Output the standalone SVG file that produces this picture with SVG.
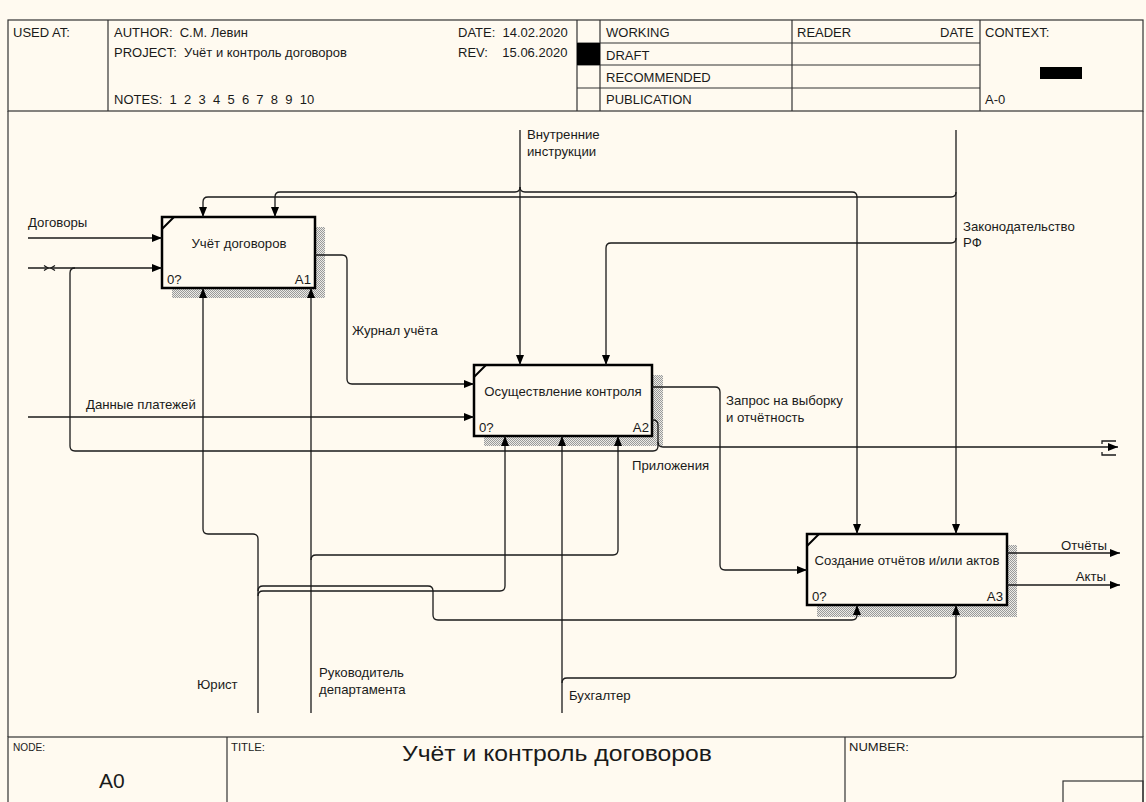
<svg xmlns="http://www.w3.org/2000/svg" width="1146" height="802" viewBox="0 0 1146 802">
<defs>
<style>
text{font-family:"Liberation Sans",Arial,sans-serif;fill:#1a1a1a}
.h{font-size:13px}
.l{font-size:13.2px}
.bl{font-size:13.2px}
.small{font-size:11px}
.frame{fill:none;stroke:#333;stroke-width:1.2}
.c{fill:none;stroke:#1a1a1a;stroke-width:1.3}
.box{fill:#fffaf0;stroke:#000;stroke-width:2.5}
.sh{fill:url(#hatch)}
</style>
<pattern id="hatch" width="2" height="2" patternUnits="userSpaceOnUse">
<rect width="2" height="2" fill="#ecebe6"/>
<rect width="1" height="1" fill="#9a9a9a"/>
<rect x="1" y="1" width="1" height="1" fill="#9a9a9a"/>
</pattern>
<marker id="ah" viewBox="0 0 10 8" refX="10" refY="4" markerWidth="10" markerHeight="8" markerUnits="userSpaceOnUse" orient="auto">
<path d="M0,0 L10,4 L0,8 z" fill="#000"/>
</marker>
</defs>
<rect x="0" y="0" width="1146" height="802" fill="#fffaf0"/>

<g id="header">
<rect class="frame" x="8" y="20" width="1135" height="91"/>
<line class="frame" x1="108" y1="20" x2="108" y2="111"/>
<line class="frame" x1="577" y1="20" x2="577" y2="111"/>
<line class="frame" x1="600" y1="20" x2="600" y2="111"/>
<line class="frame" x1="792" y1="20" x2="792" y2="111"/>
<line class="frame" x1="980" y1="20" x2="980" y2="111"/>
<line class="frame" x1="577" y1="43" x2="980" y2="43"/>
<line class="frame" x1="577" y1="65" x2="980" y2="65"/>
<line class="frame" x1="577" y1="88" x2="980" y2="88"/>
<rect x="577" y="43" width="23" height="22" fill="#000"/>
<rect x="1040" y="67" width="42" height="12" fill="#000"/>
<text class="h" x="13" y="37">USED AT:</text>
<text class="h" x="114" y="37" xml:space="preserve">AUTHOR:  С.М. Левин</text>
<text class="h" x="114" y="57" xml:space="preserve">PROJECT:  Учёт и контроль договоров</text>
<text class="h" x="114" y="104" xml:space="preserve">NOTES:  1  2  3  4  5  6  7  8  9  10</text>
<text class="h" x="458" y="37" xml:space="preserve">DATE:  14.02.2020</text>
<text class="h" x="458" y="57" xml:space="preserve">REV:    15.06.2020</text>
<text class="h" x="606" y="37">WORKING</text>
<text class="h" x="606" y="60">DRAFT</text>
<text class="h" x="606" y="82">RECOMMENDED</text>
<text class="h" x="606" y="104">PUBLICATION</text>
<text class="h" x="797" y="37">READER</text>
<text class="h" x="940" y="37">DATE</text>
<text class="h" x="985" y="37">CONTEXT:</text>
<text class="h" x="985" y="104">A-0</text>
</g>

<g id="body-frame">
<line class="frame" x1="8" y1="111" x2="8" y2="737"/>
<line class="frame" x1="1143" y1="111" x2="1143" y2="737"/>
</g>

<g id="footer">
<rect class="frame" x="8" y="737" width="1135" height="70"/>
<line class="frame" x1="227" y1="737" x2="227" y2="802"/>
<line class="frame" x1="845" y1="737" x2="845" y2="802"/>
<rect class="frame" x="1063" y="781" width="80" height="25"/>
<text class="small" x="13" y="751" textLength="32" lengthAdjust="spacingAndGlyphs">NODE:</text>
<text x="99" y="788" font-size="21">A0</text>
<text class="small" x="231" y="751" textLength="34" lengthAdjust="spacingAndGlyphs">TITLE:</text>
<text x="402" y="761" font-size="22" textLength="310" lengthAdjust="spacingAndGlyphs">Учёт и контроль договоров</text>
<text class="small" x="849" y="751" textLength="60" lengthAdjust="spacingAndGlyphs">NUMBER:</text>
</g>

<g id="A1">
<rect class="sh" x="172" y="227" width="153" height="71"/>
<rect class="box" x="162" y="217" width="153" height="71"/>
<line x1="162" y1="229" x2="174" y2="217" stroke="#000" stroke-width="2"/>
<text class="bl" x="239" y="248" text-anchor="middle">Учёт договоров</text>
<text class="bl" x="167" y="284">0?</text>
<text class="bl" x="311" y="284" text-anchor="end">A1</text>
</g>

<g id="A2">
<rect class="sh" x="484" y="375" width="179" height="71"/>
<rect class="box" x="474" y="365" width="178" height="71"/>
<line x1="474" y1="377" x2="486" y2="365" stroke="#000" stroke-width="2"/>
<text class="bl" x="563" y="396" text-anchor="middle">Осуществление контроля</text>
<text class="bl" x="479" y="432">0?</text>
<text class="bl" x="649" y="432" text-anchor="end">A2</text>
</g>

<g id="A3">
<rect class="sh" x="817" y="545" width="200" height="72"/>
<rect class="box" x="807" y="534" width="200" height="71"/>
<line x1="807" y1="546" x2="819" y2="534" stroke="#000" stroke-width="2"/>
<text class="bl" x="907" y="565" text-anchor="middle">Создание отчётов и/или актов</text>
<text class="bl" x="812" y="601">0?</text>
<text class="bl" x="1003" y="601" text-anchor="end">A3</text>
</g>

<g id="connectors">
<path class="c" d="M28,238 H162" marker-end="url(#ah)"/>
<path class="c" d="M28,268 H162" marker-end="url(#ah)"/>
<path class="c" d="M44,265.5 L48,268 L44,270.5 M55,265.5 L51,268 L55,270.5" stroke-width="1"/>
<path class="c" d="M652,420 H653 Q658,420 658,425 V446 Q658,451 653,451 H75 Q70,451 70,446 V273 Q70,268 75,268"/>
<path class="c" d="M658,442 Q658,447 663,447 H1118" marker-end="url(#ah)"/>
<path class="c" d="M1102,444 V441 H1116 M1102,452 V455 H1116" stroke-width="1.2"/>
<path class="c" d="M28,417 H474" marker-end="url(#ah)"/>
<path class="c" d="M315,255 H342 Q347,255 347,260 V379 Q347,384 352,384 H474" marker-end="url(#ah)"/>
<path class="c" d="M652,387 H715 Q720,387 720,392 V565 Q720,570 725,570 H807" marker-end="url(#ah)"/>
<path class="c" d="M1007,553 H1120" marker-end="url(#ah)"/>
<path class="c" d="M1007,585 H1120" marker-end="url(#ah)"/>
<path class="c" d="M520,130 V365" marker-end="url(#ah)"/>
<path class="c" d="M520,187 Q520,192 515,192 H280 Q275,192 275,197 V217" marker-end="url(#ah)"/>
<path class="c" d="M520,187 Q520,192 525,192 H852 Q857,192 857,197 V534" marker-end="url(#ah)"/>
<path class="c" d="M956,130 V534" marker-end="url(#ah)"/>
<path class="c" d="M956,192 Q956,197 951,197 H208 Q203,197 203,202 V217" marker-end="url(#ah)"/>
<path class="c" d="M956,238 Q956,243 951,243 H611 Q606,243 606,248 V365" marker-end="url(#ah)"/>
<path class="c" d="M258,713 V539 Q258,534 253,534 H208 Q203,534 203,529 V288" marker-end="url(#ah)"/>
<path class="c" d="M258,596 Q258,591 263,591 H500 Q505,591 505,586 V436" marker-end="url(#ah)"/>
<path class="c" d="M258,591 Q258,586 263,586 H428 Q433,586 433,591 V615 Q433,620 438,620 H852 Q857,620 857,615 V605" marker-end="url(#ah)"/>
<path class="c" d="M311,713 V288" marker-end="url(#ah)"/>
<path class="c" d="M311,560 Q311,555 316,555 H613 Q618,555 618,550 V436" marker-end="url(#ah)"/>
<path class="c" d="M562,713 V436" marker-end="url(#ah)"/>
<path class="c" d="M562,683 Q562,678 567,678 H951 Q956,678 956,673 V605" marker-end="url(#ah)"/>
</g>

<g id="connector-labels">
<text class="l" x="28" y="227">Договоры</text>
<text class="l" x="352" y="335">Журнал учёта</text>
<text class="l" x="86" y="409">Данные платежей</text>
<text class="l" x="527" y="139">Внутренние</text>
<text class="l" x="527" y="156">инструкции</text>
<text class="l" x="963" y="231">Законодательство</text>
<text class="l" x="963" y="247">РФ</text>
<text class="l" x="726" y="405">Запрос на выборку</text>
<text class="l" x="726" y="422">и отчётность</text>
<text class="l" x="632" y="470">Приложения</text>
<text class="l" x="1107" y="550" text-anchor="end">Отчёты</text>
<text class="l" x="1106" y="581" text-anchor="end">Акты</text>
<text class="l" x="197" y="689">Юрист</text>
<text class="l" x="319" y="677">Руководитель</text>
<text class="l" x="319" y="694">департамента</text>
<text class="l" x="569" y="700">Бухгалтер</text>
</g>
</svg>
